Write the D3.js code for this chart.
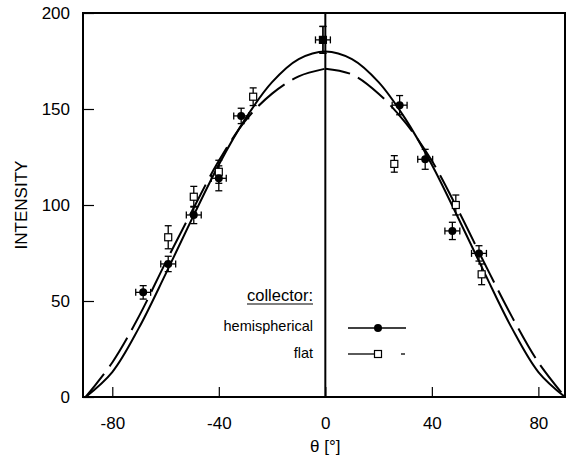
<!DOCTYPE html>
<html>
<head>
<meta charset="utf-8">
<script src="https://cdn.jsdelivr.net/npm/d3@7"></script>
<style>
  html, body { margin: 0; padding: 0; background: #fff; }
  svg text { font-family: "Liberation Sans", Arial, Helvetica, sans-serif; fill: #000; }
</style>
</head>
<body>
<svg id="chart" width="569" height="462"></svg>
<script>
// ---- data ----
const xTicks = [-80, -40, 0, 40, 80];
const yTicks = [0, 50, 100, 150, 200];

// hemispherical collector (filled circles): angle, intensity, x error, y error
const hemiTheta = [-68.4, -59.0, -49.4, -40.0, -31.6, -0.9, 27.9, 37.5, 47.7, 57.7];
const hemiValue = [54.5, 69.3, 94.8, 113.9, 146.4, 186.0, 152.0, 123.8, 86.5, 74.8];
const hemiXErr  = [2.8, 2.8, 2.8, 2.8, 2.8, 2.8, 2.8, 2.8, 2.8, 2.8];
const hemiYErr  = [3.5, 4.0, 4.5, 6.5, 4.0, 7.0, 5.0, 5.2, 4.5, 4.0];

// flat collector (open squares)
const flatTheta = [-59.0, -49.4, -40.0, -27.1, -0.9, 25.9, 49.0, 58.7];
const flatValue = [83.2, 104.3, 117.3, 156.4, 186.0, 121.4, 100.0, 63.9];
const flatYErr  = [6.0, 5.4, 6.0, 4.6, 7.0, 4.3, 5.2, 5.4];

// model curves (solid = hemispherical, dashed = flat)
const curveTheta  = [-90, -80, -70, -60, -50, -40, -30, -20, -10, 0, 10, 20, 30, 40, 50, 60, 70, 80, 90];
const solidValue  = [0, 13, 36, 64, 93, 121, 145, 164, 176, 180, 176, 164, 145, 121, 93, 64, 36, 13, 0];
const dashedValue = [0, 18, 42, 70, 97, 123, 144, 158, 167, 171, 168, 158, 143, 123, 97, 69, 42, 18, 0];

// ---- layout ----
const svg = d3.select("#chart");
const pLeft = 83, pRight = 565, pTop = 13, pBottom = 397;
const x = d3.scaleLinear().domain([-91, 90]).range([pLeft, pRight]);
const y = d3.scaleLinear().domain([0, 200]).range([pBottom, pTop]);

// frame
svg.append("rect").attr("x", pLeft).attr("y", pTop)
  .attr("width", pRight - pLeft).attr("height", pBottom - pTop)
  .attr("fill", "none").attr("stroke", "#000").attr("stroke-width", 2);

// ticks (inward)
const fmt = d => String(d);
const xAxis = d3.axisBottom(x).tickValues(xTicks).tickFormat(fmt).tickSizeInner(-10).tickSizeOuter(0).tickPadding(20);
const gx = svg.append("g").attr("transform", `translate(0,${pBottom})`).call(xAxis);
gx.select(".domain").remove();
gx.selectAll("line").attr("stroke", "#000").attr("stroke-width", 1.2);
gx.selectAll("text").attr("font-size", 17).attr("dy", null).attr("y", 32).attr("fill", "#000");

const yAxis = d3.axisLeft(y).tickValues(yTicks).tickFormat(fmt).tickSizeInner(-11).tickSizeOuter(0).tickPadding(13);
const gy = svg.append("g").attr("transform", `translate(${pLeft},0)`).call(yAxis);
gy.select(".domain").remove();
gy.selectAll("line").attr("stroke", "#000").attr("stroke-width", 1.2);
gy.selectAll("text").attr("font-size", 17).attr("fill", "#000");

// vertical line at 0
svg.append("line").attr("x1", x(0)).attr("x2", x(0)).attr("y1", pTop).attr("y2", pBottom)
  .attr("stroke", "#000").attr("stroke-width", 2);

// axis titles
svg.append("text").attr("transform", `translate(27,${(pTop + pBottom) / 2}) rotate(-90)`)
  .attr("text-anchor", "middle").attr("font-size", 17).text("INTENSITY");
svg.append("text").attr("x", x(0)).attr("y", 452).attr("text-anchor", "middle")
  .attr("font-size", 17).text("θ [°]");

// curves
const line = d3.line().x(d => x(d[0])).y(d => y(d[1])).curve(d3.curveCatmullRom.alpha(0.5));
const solidPts = curveTheta.map((t, i) => [t, solidValue[i]]);
svg.append("path").attr("d", line(solidPts)).attr("fill", "none")
  .attr("stroke", "#000").attr("stroke-width", 2);

const dashPts = curveTheta.map((t, i) => [t, dashedValue[i]]);
const mid = curveTheta.indexOf(0);
const leftHalf = dashPts.slice(0, mid + 1).reverse();
const rightHalf = dashPts.slice(mid);
svg.append("path").attr("d", line(leftHalf)).attr("fill", "none")
  .attr("stroke", "#000").attr("stroke-width", 2)
  .attr("stroke-dasharray", "34,9").attr("stroke-dashoffset", -1);
svg.append("path").attr("d", line(rightHalf)).attr("fill", "none")
  .attr("stroke", "#000").attr("stroke-width", 2)
  .attr("stroke-dasharray", "34,9").attr("stroke-dashoffset", 52);

// error bars helper
function errBar(g, cx, cy, yLo, yHi, xLo, xHi) {
  const cap = 3.5;
  g.append("line").attr("x1", cx).attr("x2", cx).attr("y1", yLo).attr("y2", yHi);
  g.append("line").attr("x1", cx - cap).attr("x2", cx + cap).attr("y1", yLo).attr("y2", yLo);
  g.append("line").attr("x1", cx - cap).attr("x2", cx + cap).attr("y1", yHi).attr("y2", yHi);
  if (xLo !== undefined) {
    g.append("line").attr("x1", xLo).attr("x2", xHi).attr("y1", cy).attr("y2", cy);
    g.append("line").attr("x1", xLo).attr("x2", xLo).attr("y1", cy - cap).attr("y2", cy + cap);
    g.append("line").attr("x1", xHi).attr("x2", xHi).attr("y1", cy - cap).attr("y2", cy + cap);
  }
}

const eg = svg.append("g").attr("stroke", "#000").attr("stroke-width", 1.3);
flatTheta.forEach((t, i) => {
  errBar(eg, x(t), y(flatValue[i]), y(flatValue[i] - flatYErr[i]), y(flatValue[i] + flatYErr[i]));
});
hemiTheta.forEach((t, i) => {
  errBar(eg, x(t), y(hemiValue[i]), y(hemiValue[i] - hemiYErr[i]), y(hemiValue[i] + hemiYErr[i]),
    x(t - hemiXErr[i]), x(t + hemiXErr[i]));
});

// markers
svg.append("g").selectAll("rect").data(flatTheta).join("rect")
  .attr("x", (d) => x(d) - 3.5).attr("y", (d, i) => y(flatValue[i]) - 3.5)
  .attr("width", 7).attr("height", 7)
  .attr("fill", "#fff").attr("stroke", "#000").attr("stroke-width", 1.2);
svg.append("g").selectAll("circle").data(hemiTheta).join("circle")
  .attr("cx", d => x(d)).attr("cy", (d, i) => y(hemiValue[i])).attr("r", 4)
  .attr("fill", "#000");

// legend
const legX = 313;
const t1 = svg.append("text").attr("x", legX).attr("y", 301).attr("text-anchor", "end")
  .attr("font-size", 16.5).text("collector:");
const w1 = t1.node().getComputedTextLength();
svg.append("line").attr("x1", legX - w1).attr("x2", legX).attr("y1", 304).attr("y2", 304)
  .attr("stroke", "#000").attr("stroke-width", 1.2);
svg.append("text").attr("x", legX).attr("y", 331).attr("text-anchor", "end")
  .attr("font-size", 14.5).text("hemispherical");
svg.append("text").attr("x", legX).attr("y", 358).attr("text-anchor", "end")
  .attr("font-size", 14.5).text("flat");

svg.append("line").attr("x1", 348).attr("x2", 406).attr("y1", 328).attr("y2", 328)
  .attr("stroke", "#000").attr("stroke-width", 1.3);
svg.append("circle").attr("cx", 378).attr("cy", 328).attr("r", 4).attr("fill", "#000");

svg.append("line").attr("x1", 348).attr("x2", 376).attr("y1", 354).attr("y2", 354)
  .attr("stroke", "#000").attr("stroke-width", 1.3);
svg.append("rect").attr("x", 374.5).attr("y", 350.5).attr("width", 7).attr("height", 7)
  .attr("fill", "#fff").attr("stroke", "#000").attr("stroke-width", 1.2);
svg.append("line").attr("x1", 401).attr("x2", 405).attr("y1", 354).attr("y2", 354)
  .attr("stroke", "#000").attr("stroke-width", 1.3);
</script>
</body>
</html>
